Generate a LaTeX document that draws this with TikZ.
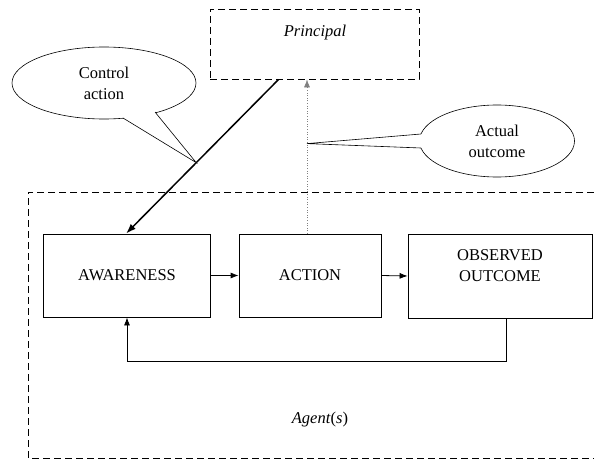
\documentclass[tikz,border=0pt]{standalone}
\usepackage{fontspec}
\setmainfont{Liberation Serif}
\usetikzlibrary{arrows.meta,shapes.geometric,calc}
\begin{document}
\begin{tikzpicture}[x=1pt,y=-1pt,
  font=\fontsize{16.5}{21}\selectfont,
  box/.style={draw, line width=0.8pt, inner sep=0pt, align=center},
  dbox/.style={draw, line width=0.8pt, dash pattern=on 7pt off 4pt},
  arr/.style={-{Latex[length=8pt,width=6pt]}, line width=0.8pt},
  bubble/.style={ellipse, draw, line width=0.6pt, fill=white, align=center, inner sep=0pt},
  tail/.style={line width=0.6pt, line join=miter},
  txt/.style={inner sep=0pt, align=center}
]
\useasboundingbox (0,0) rectangle (594,460);

% agent region
\draw[dbox] (594,192) -- (28,192) -- (28,458) -- (594,458);
\node[txt] (agent) at (320,420) {\textit{Agent}(\textit{s})};

% principal
\node[dbox, minimum width=209pt, minimum height=70pt, inner sep=0pt] (principal) at (314.5,44) {};
\node[txt] (ptext) at (315,33) {\textit{Principal}};

% boxes
\node[box, minimum width=167pt, minimum height=83pt] (awareness) at (127,275.5) {AWARENESS};
\node[box, minimum width=142pt, minimum height=83pt] (action) at (310,275.5) {ACTION};
\node[box, minimum width=184pt, minimum height=84pt] (observed) at (500,276) {};
\node[txt] (otext) at (500,266) {OBSERVED\\OUTCOME};

% horizontal arrows
\draw[arr] (awareness.east) -- (action.west);
\draw[arr] (action.east) -- (observed.west);

% feedback
\coordinate (fb) at ($(observed.south)+(6,0)$);
\draw[arr] (fb) -- ++(0,43) -| (awareness.south);

% control action arrow
\coordinate (ca1) at ($(principal.south west)+(69,0)$);
\coordinate (ca2) at ($(awareness.north west)+(83,0)$);
\draw[-{Latex[length=10pt,width=7pt]}, line width=1.5pt] (ca1) -- (ca2);

% actual outcome dotted arrow
\coordinate (dt) at ($(action.north)+(-3,0)$);
\draw[-{Latex[length=8pt,width=6pt]}, line width=0.6pt, dotted, gray] (dt) -- (dt |- principal.south);

% callout: control action
\coordinate (ctip) at ($(ca1)!0.54!(ca2)$);
\node[bubble, minimum width=184pt, minimum height=72pt] (control) at (104,83) {Control\\action};
\coordinate (cb1) at ($(control.center)+(19,35)$);
\coordinate (cb2) at ($(control.center)+(51,29)$);
\fill[white] (ctip) -- (cb1) -- ($(control.center)!0.8!(cb1)$) -- ($(control.center)!0.8!(cb2)$) -- (cb2) -- cycle;
\draw[tail] (cb1) -- (ctip) -- (cb2);

% callout: actual outcome
\coordinate (atip) at ($(dt)+(0,-90)$);
\node[bubble, minimum width=155pt, minimum height=72pt] (actual) at (497,141) {Actual\\outcome};
\coordinate (ab1) at ($(actual.center)+(-76,-7)$);
\coordinate (ab2) at ($(actual.center)+(-76,7)$);
\fill[white] (atip) -- (ab1) -- ($(actual.center)!0.8!(ab1)$) -- ($(actual.center)!0.8!(ab2)$) -- (ab2) -- cycle;
\draw[tail] (ab1) -- (atip) -- (ab2);
\end{tikzpicture}
\end{document}
